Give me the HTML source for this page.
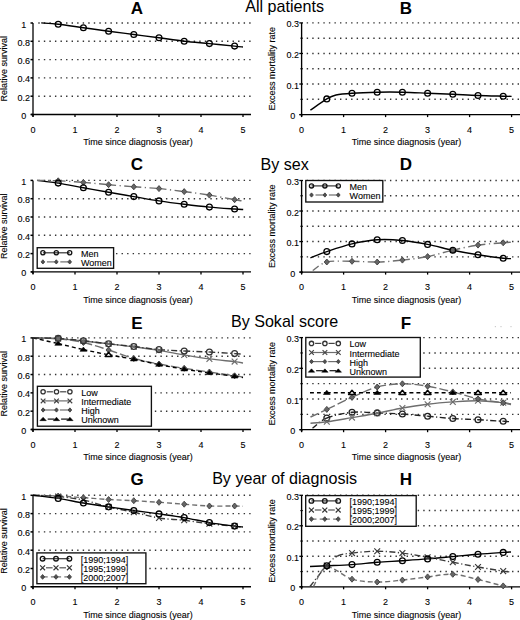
<!DOCTYPE html>
<html><head><meta charset="utf-8"><title>Relative survival figure</title>
<style>html,body{margin:0;padding:0;background:#fff;width:520px;height:620px;overflow:hidden}body{font-family:"Liberation Sans", sans-serif}text{stroke:#000;stroke-width:0.1px}text.t{stroke:none}</style></head>
<body>
<svg width="520" height="620" viewBox="0 0 520 620" style="display:block" font-family="&quot;Liberation Sans&quot;, sans-serif" fill="#000">
<rect width="520" height="620" fill="#fff"/>
<text x="137" y="13.7" font-size="17" text-anchor="middle" font-weight="bold" class="t">A</text>
<text x="406" y="13.7" font-size="17" text-anchor="middle" font-weight="bold" class="t">B</text>
<text class="t" x="284.6" y="11.9" font-size="16.1" text-anchor="middle">All patients</text>
<line x1="38.3" y1="96.2" x2="251" y2="96.2" stroke="#333" stroke-width="1.4" stroke-dasharray="1.4 4.15"/>
<line x1="38.3" y1="77.9" x2="251" y2="77.9" stroke="#333" stroke-width="1.4" stroke-dasharray="1.4 4.15"/>
<line x1="38.3" y1="59.6" x2="251" y2="59.6" stroke="#333" stroke-width="1.4" stroke-dasharray="1.4 4.15"/>
<line x1="38.3" y1="41.3" x2="251" y2="41.3" stroke="#333" stroke-width="1.4" stroke-dasharray="1.4 4.15"/>
<line x1="38.3" y1="23" x2="251" y2="23" stroke="#333" stroke-width="1.4" stroke-dasharray="1.4 4.15"/>
<line x1="33" y1="23" x2="33" y2="116.7" stroke="#5a5a5a" stroke-width="2"/>
<line x1="31" y1="114.5" x2="251" y2="114.5" stroke="#000" stroke-width="1.4"/>
<line x1="30.5" y1="114.5" x2="33" y2="114.5" stroke="#000" stroke-width="1.5"/>
<text x="23.8" y="119" font-size="9" text-anchor="middle" font-weight="normal" >0</text>
<line x1="30.5" y1="96.2" x2="33" y2="96.2" stroke="#000" stroke-width="1.5"/>
<text x="23.8" y="100.7" font-size="9" text-anchor="middle" font-weight="normal" >0.2</text>
<line x1="30.5" y1="77.9" x2="33" y2="77.9" stroke="#000" stroke-width="1.5"/>
<text x="23.8" y="82.4" font-size="9" text-anchor="middle" font-weight="normal" >0.4</text>
<line x1="30.5" y1="59.6" x2="33" y2="59.6" stroke="#000" stroke-width="1.5"/>
<text x="23.8" y="64.1" font-size="9" text-anchor="middle" font-weight="normal" >0.6</text>
<line x1="30.5" y1="41.3" x2="33" y2="41.3" stroke="#000" stroke-width="1.5"/>
<text x="23.8" y="45.8" font-size="9" text-anchor="middle" font-weight="normal" >0.8</text>
<line x1="30.5" y1="23" x2="33" y2="23" stroke="#000" stroke-width="1.5"/>
<text x="23.8" y="27.5" font-size="9" text-anchor="middle" font-weight="normal" >1</text>
<line x1="33" y1="114.5" x2="33" y2="117" stroke="#000" stroke-width="1.3"/>
<text x="33" y="132.7" font-size="9" text-anchor="middle" font-weight="normal" >0</text>
<line x1="75" y1="114.5" x2="75" y2="117" stroke="#000" stroke-width="1.3"/>
<text x="75" y="132.7" font-size="9" text-anchor="middle" font-weight="normal" >1</text>
<line x1="117" y1="114.5" x2="117" y2="117" stroke="#000" stroke-width="1.3"/>
<text x="117" y="132.7" font-size="9" text-anchor="middle" font-weight="normal" >2</text>
<line x1="159" y1="114.5" x2="159" y2="117" stroke="#000" stroke-width="1.3"/>
<text x="159" y="132.7" font-size="9" text-anchor="middle" font-weight="normal" >3</text>
<line x1="201" y1="114.5" x2="201" y2="117" stroke="#000" stroke-width="1.3"/>
<text x="201" y="132.7" font-size="9" text-anchor="middle" font-weight="normal" >4</text>
<line x1="243" y1="114.5" x2="243" y2="117" stroke="#000" stroke-width="1.3"/>
<text x="243" y="132.7" font-size="9" text-anchor="middle" font-weight="normal" >5</text>
<text x="138" y="145.2" font-size="9" text-anchor="middle" font-weight="normal" >Time since diagnosis (year)</text>
<text transform="translate(6.7,68.75) rotate(-90)" font-size="9" text-anchor="middle">Relative survival</text>
<path d="M41.2,22.9 C44.03,23.12 51.17,23.4 58.2,24.2 C65.23,25 75,26.53 83.4,27.7 C91.8,28.87 100.2,30.07 108.6,31.2 C117,32.33 125.4,33.4 133.8,34.5 C142.2,35.6 150.6,36.68 159,37.8 C167.4,38.92 175.8,40.23 184.2,41.2 C192.6,42.17 201,42.78 209.4,43.6 C217.8,44.42 229,45.53 234.6,46.1 C240.2,46.67 241.6,46.85 243,47" fill="none" stroke="#000" stroke-width="1.4" stroke-linejoin="round"/>
<circle cx="58.2" cy="24.2" r="2.9" fill="none" stroke="#000" stroke-width="1.3"/>
<circle cx="83.4" cy="27.7" r="2.9" fill="none" stroke="#000" stroke-width="1.3"/>
<circle cx="108.6" cy="31.2" r="2.9" fill="none" stroke="#000" stroke-width="1.3"/>
<circle cx="133.8" cy="34.5" r="2.9" fill="none" stroke="#000" stroke-width="1.3"/>
<circle cx="159" cy="37.8" r="2.9" fill="none" stroke="#000" stroke-width="1.3"/>
<circle cx="184.2" cy="41.2" r="2.9" fill="none" stroke="#000" stroke-width="1.3"/>
<circle cx="209.4" cy="43.6" r="2.9" fill="none" stroke="#000" stroke-width="1.3"/>
<circle cx="234.6" cy="46.1" r="2.9" fill="none" stroke="#000" stroke-width="1.3"/>
<line x1="306.7" y1="99.32" x2="520" y2="99.32" stroke="#333" stroke-width="1.4" stroke-dasharray="1.4 4.15"/>
<line x1="306.7" y1="84.03" x2="520" y2="84.03" stroke="#333" stroke-width="1.4" stroke-dasharray="1.4 4.15"/>
<line x1="306.7" y1="68.75" x2="520" y2="68.75" stroke="#333" stroke-width="1.4" stroke-dasharray="1.4 4.15"/>
<line x1="306.7" y1="53.47" x2="520" y2="53.47" stroke="#333" stroke-width="1.4" stroke-dasharray="1.4 4.15"/>
<line x1="306.7" y1="38.18" x2="520" y2="38.18" stroke="#333" stroke-width="1.4" stroke-dasharray="1.4 4.15"/>
<line x1="306.7" y1="22.9" x2="520" y2="22.9" stroke="#333" stroke-width="1.4" stroke-dasharray="1.4 4.15"/>
<line x1="301.6" y1="22.9" x2="301.6" y2="116.6" stroke="#000" stroke-width="1.35"/>
<line x1="299.6" y1="114.6" x2="520" y2="114.6" stroke="#000" stroke-width="1.3"/>
<line x1="300.4" y1="99.32" x2="302.8" y2="99.32" stroke="#000" stroke-width="1.2"/>
<line x1="300.4" y1="68.75" x2="302.8" y2="68.75" stroke="#000" stroke-width="1.2"/>
<line x1="300.4" y1="38.18" x2="302.8" y2="38.18" stroke="#000" stroke-width="1.2"/>
<line x1="299.3" y1="114.6" x2="303" y2="114.6" stroke="#000" stroke-width="1.3"/>
<text x="292.8" y="119.1" font-size="9" text-anchor="middle" font-weight="normal" >0</text>
<line x1="299.3" y1="84.03" x2="303" y2="84.03" stroke="#000" stroke-width="1.3"/>
<text x="292.8" y="88.53" font-size="9" text-anchor="middle" font-weight="normal" >0.1</text>
<line x1="299.3" y1="53.47" x2="303" y2="53.47" stroke="#000" stroke-width="1.3"/>
<text x="292.8" y="57.97" font-size="9" text-anchor="middle" font-weight="normal" >0.2</text>
<line x1="299.3" y1="22.9" x2="303" y2="22.9" stroke="#000" stroke-width="1.3"/>
<text x="292.8" y="27.4" font-size="9" text-anchor="middle" font-weight="normal" >0.3</text>
<line x1="301.6" y1="114.6" x2="301.6" y2="117.1" stroke="#000" stroke-width="1.3"/>
<text x="301.6" y="132.8" font-size="9" text-anchor="middle" font-weight="normal" >0</text>
<line x1="343.6" y1="114.6" x2="343.6" y2="117.1" stroke="#000" stroke-width="1.3"/>
<text x="343.6" y="132.8" font-size="9" text-anchor="middle" font-weight="normal" >1</text>
<line x1="385.6" y1="114.6" x2="385.6" y2="117.1" stroke="#000" stroke-width="1.3"/>
<text x="385.6" y="132.8" font-size="9" text-anchor="middle" font-weight="normal" >2</text>
<line x1="427.6" y1="114.6" x2="427.6" y2="117.1" stroke="#000" stroke-width="1.3"/>
<text x="427.6" y="132.8" font-size="9" text-anchor="middle" font-weight="normal" >3</text>
<line x1="469.6" y1="114.6" x2="469.6" y2="117.1" stroke="#000" stroke-width="1.3"/>
<text x="469.6" y="132.8" font-size="9" text-anchor="middle" font-weight="normal" >4</text>
<line x1="511.6" y1="114.6" x2="511.6" y2="117.1" stroke="#000" stroke-width="1.3"/>
<text x="511.6" y="132.8" font-size="9" text-anchor="middle" font-weight="normal" >5</text>
<text x="406.5" y="145.3" font-size="9" text-anchor="middle" font-weight="normal" >Time since diagnosis (year)</text>
<text transform="translate(275.4,68.75) rotate(-90)" font-size="9" text-anchor="middle">Excess mortality rate</text>
<path d="M310.4,110.2 C313.13,108.32 322.53,101.43 326.8,98.9 C331.07,96.37 331.8,95.95 336,95 C340.2,94.05 345.13,93.67 352,93.2 C358.87,92.73 368.8,92.37 377.2,92.2 C385.6,92.03 394,92.03 402.4,92.2 C410.8,92.37 419.2,92.85 427.6,93.2 C436,93.55 444.4,93.92 452.8,94.3 C461.2,94.68 469.6,95.18 478,95.5 C486.4,95.82 497.6,96.05 503.2,96.2 C508.8,96.35 510.2,96.37 511.6,96.4" fill="none" stroke="#000" stroke-width="1.4" stroke-linejoin="round"/>
<circle cx="326.8" cy="98.9" r="2.9" fill="none" stroke="#000" stroke-width="1.3"/>
<circle cx="352" cy="93.2" r="2.9" fill="none" stroke="#000" stroke-width="1.3"/>
<circle cx="377.2" cy="92.2" r="2.9" fill="none" stroke="#000" stroke-width="1.3"/>
<circle cx="402.4" cy="92.2" r="2.9" fill="none" stroke="#000" stroke-width="1.3"/>
<circle cx="427.6" cy="93.2" r="2.9" fill="none" stroke="#000" stroke-width="1.3"/>
<circle cx="452.8" cy="94.3" r="2.9" fill="none" stroke="#000" stroke-width="1.3"/>
<circle cx="478" cy="95.5" r="2.9" fill="none" stroke="#000" stroke-width="1.3"/>
<circle cx="503.2" cy="96.2" r="2.9" fill="none" stroke="#000" stroke-width="1.3"/>
<text x="137" y="170.4" font-size="17" text-anchor="middle" font-weight="bold" class="t">C</text>
<text x="406" y="170.4" font-size="17" text-anchor="middle" font-weight="bold" class="t">D</text>
<text class="t" x="284.6" y="169.8" font-size="16.1" text-anchor="middle">By sex</text>
<line x1="38.3" y1="253.6" x2="251" y2="253.6" stroke="#333" stroke-width="1.4" stroke-dasharray="1.4 4.15"/>
<line x1="38.3" y1="235.3" x2="251" y2="235.3" stroke="#333" stroke-width="1.4" stroke-dasharray="1.4 4.15"/>
<line x1="38.3" y1="217" x2="251" y2="217" stroke="#333" stroke-width="1.4" stroke-dasharray="1.4 4.15"/>
<line x1="38.3" y1="198.7" x2="251" y2="198.7" stroke="#333" stroke-width="1.4" stroke-dasharray="1.4 4.15"/>
<line x1="38.3" y1="180.4" x2="251" y2="180.4" stroke="#333" stroke-width="1.4" stroke-dasharray="1.4 4.15"/>
<line x1="33" y1="180.4" x2="33" y2="274.1" stroke="#5a5a5a" stroke-width="2"/>
<line x1="31" y1="271.9" x2="251" y2="271.9" stroke="#000" stroke-width="1.4"/>
<line x1="30.5" y1="271.9" x2="33" y2="271.9" stroke="#000" stroke-width="1.5"/>
<text x="23.8" y="276.4" font-size="9" text-anchor="middle" font-weight="normal" >0</text>
<line x1="30.5" y1="253.6" x2="33" y2="253.6" stroke="#000" stroke-width="1.5"/>
<text x="23.8" y="258.1" font-size="9" text-anchor="middle" font-weight="normal" >0.2</text>
<line x1="30.5" y1="235.3" x2="33" y2="235.3" stroke="#000" stroke-width="1.5"/>
<text x="23.8" y="239.8" font-size="9" text-anchor="middle" font-weight="normal" >0.4</text>
<line x1="30.5" y1="217" x2="33" y2="217" stroke="#000" stroke-width="1.5"/>
<text x="23.8" y="221.5" font-size="9" text-anchor="middle" font-weight="normal" >0.6</text>
<line x1="30.5" y1="198.7" x2="33" y2="198.7" stroke="#000" stroke-width="1.5"/>
<text x="23.8" y="203.2" font-size="9" text-anchor="middle" font-weight="normal" >0.8</text>
<line x1="30.5" y1="180.4" x2="33" y2="180.4" stroke="#000" stroke-width="1.5"/>
<text x="23.8" y="184.9" font-size="9" text-anchor="middle" font-weight="normal" >1</text>
<line x1="33" y1="271.9" x2="33" y2="274.4" stroke="#000" stroke-width="1.3"/>
<text x="33" y="290.1" font-size="9" text-anchor="middle" font-weight="normal" >0</text>
<line x1="75" y1="271.9" x2="75" y2="274.4" stroke="#000" stroke-width="1.3"/>
<text x="75" y="290.1" font-size="9" text-anchor="middle" font-weight="normal" >1</text>
<line x1="117" y1="271.9" x2="117" y2="274.4" stroke="#000" stroke-width="1.3"/>
<text x="117" y="290.1" font-size="9" text-anchor="middle" font-weight="normal" >2</text>
<line x1="159" y1="271.9" x2="159" y2="274.4" stroke="#000" stroke-width="1.3"/>
<text x="159" y="290.1" font-size="9" text-anchor="middle" font-weight="normal" >3</text>
<line x1="201" y1="271.9" x2="201" y2="274.4" stroke="#000" stroke-width="1.3"/>
<text x="201" y="290.1" font-size="9" text-anchor="middle" font-weight="normal" >4</text>
<line x1="243" y1="271.9" x2="243" y2="274.4" stroke="#000" stroke-width="1.3"/>
<text x="243" y="290.1" font-size="9" text-anchor="middle" font-weight="normal" >5</text>
<text x="138" y="302.6" font-size="9" text-anchor="middle" font-weight="normal" >Time since diagnosis (year)</text>
<text transform="translate(6.7,226.15) rotate(-90)" font-size="9" text-anchor="middle">Relative survival</text>
<path d="M37,180.4 C40.53,180.85 50.47,181.88 58.2,183.1 C65.93,184.32 75,186.17 83.4,187.7 C91.8,189.23 100.2,190.82 108.6,192.3 C117,193.78 125.4,195.17 133.8,196.6 C142.2,198.03 150.6,199.62 159,200.9 C167.4,202.18 175.8,203.27 184.2,204.3 C192.6,205.33 201,206.32 209.4,207.1 C217.8,207.88 228.97,208.6 234.6,209 C240.23,209.4 241.77,209.42 243.2,209.5" fill="none" stroke="#000" stroke-width="1.4" stroke-linejoin="round"/>
<g fill="none" stroke="#6e6e6e" stroke-width="1.4" stroke-dasharray="7.5 3.5 1.2 3.5">
<path d="M37,180.4 C40.53,180.47 50.47,180.47 58.2,180.8"/>
<path d="M58.2,180.8 C65.93,181.13 75,181.75 83.4,182.4"/>
<path d="M83.4,182.4 C91.8,183.05 100.2,183.97 108.6,184.7"/>
<path d="M108.6,184.7 C117,185.43 125.4,186.15 133.8,186.8"/>
<path d="M133.8,186.8 C142.2,187.45 150.6,187.8 159,188.6"/>
<path d="M159,188.6 C167.4,189.4 175.8,190.52 184.2,191.6"/>
<path d="M184.2,191.6 C192.6,192.68 201,193.75 209.4,195.1"/>
<path d="M209.4,195.1 C217.8,196.45 229.25,198.75 234.6,199.7"/>
<path d="M234.6,199.7 C239.95,200.65 240.35,200.62 241.5,200.8"/>
</g>
<path d="M58.2,177.8L60.8,180.8L58.2,183.8L55.6,180.8Z" fill="#666" stroke="#3e3e3e" stroke-width="0.9" stroke-linejoin="round"/>
<path d="M83.4,179.4L86,182.4L83.4,185.4L80.8,182.4Z" fill="#666" stroke="#3e3e3e" stroke-width="0.9" stroke-linejoin="round"/>
<path d="M108.6,181.7L111.2,184.7L108.6,187.7L106,184.7Z" fill="#666" stroke="#3e3e3e" stroke-width="0.9" stroke-linejoin="round"/>
<path d="M133.8,183.8L136.4,186.8L133.8,189.8L131.2,186.8Z" fill="#666" stroke="#3e3e3e" stroke-width="0.9" stroke-linejoin="round"/>
<path d="M159,185.6L161.6,188.6L159,191.6L156.4,188.6Z" fill="#666" stroke="#3e3e3e" stroke-width="0.9" stroke-linejoin="round"/>
<path d="M184.2,188.6L186.8,191.6L184.2,194.6L181.6,191.6Z" fill="#666" stroke="#3e3e3e" stroke-width="0.9" stroke-linejoin="round"/>
<path d="M209.4,192.1L212,195.1L209.4,198.1L206.8,195.1Z" fill="#666" stroke="#3e3e3e" stroke-width="0.9" stroke-linejoin="round"/>
<path d="M234.6,196.7L237.2,199.7L234.6,202.7L232,199.7Z" fill="#666" stroke="#3e3e3e" stroke-width="0.9" stroke-linejoin="round"/>
<circle cx="58.2" cy="183.1" r="2.9" fill="none" stroke="#000" stroke-width="1.3"/>
<circle cx="83.4" cy="187.7" r="2.9" fill="none" stroke="#000" stroke-width="1.3"/>
<circle cx="108.6" cy="192.3" r="2.9" fill="none" stroke="#000" stroke-width="1.3"/>
<circle cx="133.8" cy="196.6" r="2.9" fill="none" stroke="#000" stroke-width="1.3"/>
<circle cx="159" cy="200.9" r="2.9" fill="none" stroke="#000" stroke-width="1.3"/>
<circle cx="184.2" cy="204.3" r="2.9" fill="none" stroke="#000" stroke-width="1.3"/>
<circle cx="209.4" cy="207.1" r="2.9" fill="none" stroke="#000" stroke-width="1.3"/>
<circle cx="234.6" cy="209" r="2.9" fill="none" stroke="#000" stroke-width="1.3"/>
<rect x="37.2" y="247.7" width="76.4" height="20.6" fill="#fff" stroke="#111" stroke-width="1.35"/>
<line x1="42.9" y1="252.8" x2="69.7" y2="252.8" stroke="#333" stroke-width="1.2"/>
<circle cx="42.9" cy="252.8" r="2.09" fill="none" stroke="#111" stroke-width="1.3"/>
<circle cx="56.3" cy="252.8" r="2.09" fill="none" stroke="#111" stroke-width="1.3"/>
<circle cx="69.7" cy="252.8" r="2.09" fill="none" stroke="#111" stroke-width="1.3"/>
<text x="81" y="256.8" font-size="9" text-anchor="start" font-weight="normal" >Men</text>
<line x1="46.9" y1="261.9" x2="54.8" y2="261.9" stroke="#6e6e6e" stroke-width="1.2"/>
<line x1="60.3" y1="261.9" x2="68.2" y2="261.9" stroke="#6e6e6e" stroke-width="1.2"/>
<path d="M42.9,259.76L44.74,261.9L42.9,264.04L41.06,261.9Z" fill="#505050" stroke="#383838" stroke-width="0.8" stroke-linejoin="round"/>
<path d="M56.3,259.76L58.14,261.9L56.3,264.04L54.46,261.9Z" fill="#505050" stroke="#383838" stroke-width="0.8" stroke-linejoin="round"/>
<path d="M69.7,259.76L71.54,261.9L69.7,264.04L67.86,261.9Z" fill="#505050" stroke="#383838" stroke-width="0.8" stroke-linejoin="round"/>
<text x="81" y="265.9" font-size="9" text-anchor="start" font-weight="normal" >Women</text>
<line x1="306.7" y1="256.83" x2="520" y2="256.83" stroke="#333" stroke-width="1.4" stroke-dasharray="1.4 4.15"/>
<line x1="306.7" y1="241.57" x2="520" y2="241.57" stroke="#333" stroke-width="1.4" stroke-dasharray="1.4 4.15"/>
<line x1="306.7" y1="226.3" x2="520" y2="226.3" stroke="#333" stroke-width="1.4" stroke-dasharray="1.4 4.15"/>
<line x1="306.7" y1="211.03" x2="520" y2="211.03" stroke="#333" stroke-width="1.4" stroke-dasharray="1.4 4.15"/>
<line x1="306.7" y1="195.77" x2="520" y2="195.77" stroke="#333" stroke-width="1.4" stroke-dasharray="1.4 4.15"/>
<line x1="306.7" y1="180.5" x2="520" y2="180.5" stroke="#333" stroke-width="1.4" stroke-dasharray="1.4 4.15"/>
<line x1="301.6" y1="180.5" x2="301.6" y2="274.1" stroke="#000" stroke-width="1.35"/>
<line x1="299.6" y1="272.1" x2="520" y2="272.1" stroke="#000" stroke-width="1.3"/>
<line x1="300.4" y1="256.83" x2="302.8" y2="256.83" stroke="#000" stroke-width="1.2"/>
<line x1="300.4" y1="226.3" x2="302.8" y2="226.3" stroke="#000" stroke-width="1.2"/>
<line x1="300.4" y1="195.77" x2="302.8" y2="195.77" stroke="#000" stroke-width="1.2"/>
<line x1="299.3" y1="272.1" x2="303" y2="272.1" stroke="#000" stroke-width="1.3"/>
<text x="292.8" y="276.6" font-size="9" text-anchor="middle" font-weight="normal" >0</text>
<line x1="299.3" y1="241.57" x2="303" y2="241.57" stroke="#000" stroke-width="1.3"/>
<text x="292.8" y="246.07" font-size="9" text-anchor="middle" font-weight="normal" >0.1</text>
<line x1="299.3" y1="211.03" x2="303" y2="211.03" stroke="#000" stroke-width="1.3"/>
<text x="292.8" y="215.53" font-size="9" text-anchor="middle" font-weight="normal" >0.2</text>
<line x1="299.3" y1="180.5" x2="303" y2="180.5" stroke="#000" stroke-width="1.3"/>
<text x="292.8" y="185" font-size="9" text-anchor="middle" font-weight="normal" >0.3</text>
<line x1="301.6" y1="272.1" x2="301.6" y2="274.6" stroke="#000" stroke-width="1.3"/>
<text x="301.6" y="290.3" font-size="9" text-anchor="middle" font-weight="normal" >0</text>
<line x1="343.6" y1="272.1" x2="343.6" y2="274.6" stroke="#000" stroke-width="1.3"/>
<text x="343.6" y="290.3" font-size="9" text-anchor="middle" font-weight="normal" >1</text>
<line x1="385.6" y1="272.1" x2="385.6" y2="274.6" stroke="#000" stroke-width="1.3"/>
<text x="385.6" y="290.3" font-size="9" text-anchor="middle" font-weight="normal" >2</text>
<line x1="427.6" y1="272.1" x2="427.6" y2="274.6" stroke="#000" stroke-width="1.3"/>
<text x="427.6" y="290.3" font-size="9" text-anchor="middle" font-weight="normal" >3</text>
<line x1="469.6" y1="272.1" x2="469.6" y2="274.6" stroke="#000" stroke-width="1.3"/>
<text x="469.6" y="290.3" font-size="9" text-anchor="middle" font-weight="normal" >4</text>
<line x1="511.6" y1="272.1" x2="511.6" y2="274.6" stroke="#000" stroke-width="1.3"/>
<text x="511.6" y="290.3" font-size="9" text-anchor="middle" font-weight="normal" >5</text>
<text x="406.5" y="302.8" font-size="9" text-anchor="middle" font-weight="normal" >Time since diagnosis (year)</text>
<text transform="translate(275.4,226.3) rotate(-90)" font-size="9" text-anchor="middle">Excess mortality rate</text>
<path d="M310.4,257.8 C313.13,256.77 319.87,253.92 326.8,251.6 C333.73,249.28 343.6,245.87 352,243.9 C360.4,241.93 368.8,240.37 377.2,239.8 C385.6,239.23 394,239.73 402.4,240.5 C410.8,241.27 419.2,242.78 427.6,244.4 C436,246.02 444.4,248.47 452.8,250.2 C461.2,251.93 469.6,253.45 478,254.8 C486.4,256.15 497.7,257.67 503.2,258.3 C508.7,258.93 509.7,258.55 511,258.6" fill="none" stroke="#000" stroke-width="1.4" stroke-linejoin="round"/>
<g fill="none" stroke="#6e6e6e" stroke-width="1.4" stroke-dasharray="7.5 3.5 1.2 3.5">
<path d="M312.7,270.5 C315.05,269.08 320.25,263.53 326.8,262"/>
<path d="M326.8,262 C333.35,260.47 343.6,261.3 352,261.3"/>
<path d="M352,261.3 C360.4,261.3 368.8,262.2 377.2,262"/>
<path d="M377.2,262 C385.6,261.8 394,261 402.4,260.1"/>
<path d="M402.4,260.1 C410.8,259.2 419.2,258.25 427.6,256.6"/>
<path d="M427.6,256.6 C436,254.95 444.4,252.12 452.8,250.2"/>
<path d="M452.8,250.2 C461.2,248.28 469.6,246.33 478,245.1"/>
<path d="M478,245.1 C486.4,243.87 497.7,243.28 503.2,242.8"/>
<path d="M503.2,242.8 C508.7,242.32 509.7,242.3 511,242.2"/>
</g>
<path d="M326.8,259L329.4,262L326.8,265L324.2,262Z" fill="#666" stroke="#3e3e3e" stroke-width="0.9" stroke-linejoin="round"/>
<path d="M352,258.3L354.6,261.3L352,264.3L349.4,261.3Z" fill="#666" stroke="#3e3e3e" stroke-width="0.9" stroke-linejoin="round"/>
<path d="M377.2,259L379.8,262L377.2,265L374.6,262Z" fill="#666" stroke="#3e3e3e" stroke-width="0.9" stroke-linejoin="round"/>
<path d="M402.4,257.1L405,260.1L402.4,263.1L399.8,260.1Z" fill="#666" stroke="#3e3e3e" stroke-width="0.9" stroke-linejoin="round"/>
<path d="M427.6,253.6L430.2,256.6L427.6,259.6L425,256.6Z" fill="#666" stroke="#3e3e3e" stroke-width="0.9" stroke-linejoin="round"/>
<path d="M452.8,247.2L455.4,250.2L452.8,253.2L450.2,250.2Z" fill="#666" stroke="#3e3e3e" stroke-width="0.9" stroke-linejoin="round"/>
<path d="M478,242.1L480.6,245.1L478,248.1L475.4,245.1Z" fill="#666" stroke="#3e3e3e" stroke-width="0.9" stroke-linejoin="round"/>
<path d="M503.2,239.8L505.8,242.8L503.2,245.8L500.6,242.8Z" fill="#666" stroke="#3e3e3e" stroke-width="0.9" stroke-linejoin="round"/>
<circle cx="326.8" cy="251.6" r="2.9" fill="none" stroke="#000" stroke-width="1.3"/>
<circle cx="352" cy="243.9" r="2.9" fill="none" stroke="#000" stroke-width="1.3"/>
<circle cx="377.2" cy="239.8" r="2.9" fill="none" stroke="#000" stroke-width="1.3"/>
<circle cx="402.4" cy="240.5" r="2.9" fill="none" stroke="#000" stroke-width="1.3"/>
<circle cx="427.6" cy="244.4" r="2.9" fill="none" stroke="#000" stroke-width="1.3"/>
<circle cx="452.8" cy="250.2" r="2.9" fill="none" stroke="#000" stroke-width="1.3"/>
<circle cx="478" cy="254.8" r="2.9" fill="none" stroke="#000" stroke-width="1.3"/>
<circle cx="503.2" cy="258.3" r="2.9" fill="none" stroke="#000" stroke-width="1.3"/>
<rect x="305.8" y="180.5" width="77" height="21.5" fill="#fff" stroke="#111" stroke-width="1.35"/>
<line x1="311.5" y1="185.9" x2="338.3" y2="185.9" stroke="#333" stroke-width="1.2"/>
<circle cx="311.5" cy="185.9" r="2.09" fill="none" stroke="#111" stroke-width="1.3"/>
<circle cx="324.9" cy="185.9" r="2.09" fill="none" stroke="#111" stroke-width="1.3"/>
<circle cx="338.3" cy="185.9" r="2.09" fill="none" stroke="#111" stroke-width="1.3"/>
<text x="349.6" y="189.9" font-size="9" text-anchor="start" font-weight="normal" >Men</text>
<line x1="315.5" y1="195" x2="323.4" y2="195" stroke="#6e6e6e" stroke-width="1.2"/>
<line x1="328.9" y1="195" x2="336.8" y2="195" stroke="#6e6e6e" stroke-width="1.2"/>
<path d="M311.5,192.86L313.34,195L311.5,197.14L309.66,195Z" fill="#505050" stroke="#383838" stroke-width="0.8" stroke-linejoin="round"/>
<path d="M324.9,192.86L326.74,195L324.9,197.14L323.06,195Z" fill="#505050" stroke="#383838" stroke-width="0.8" stroke-linejoin="round"/>
<path d="M338.3,192.86L340.14,195L338.3,197.14L336.46,195Z" fill="#505050" stroke="#383838" stroke-width="0.8" stroke-linejoin="round"/>
<text x="349.6" y="199" font-size="9" text-anchor="start" font-weight="normal" >Women</text>
<text x="137" y="328.5" font-size="17" text-anchor="middle" font-weight="bold" class="t">E</text>
<text x="406" y="328.5" font-size="17" text-anchor="middle" font-weight="bold" class="t">F</text>
<text class="t" x="284.6" y="327.4" font-size="16.1" text-anchor="middle">By Sokal score</text>
<line x1="38.3" y1="411.18" x2="251" y2="411.18" stroke="#333" stroke-width="1.4" stroke-dasharray="1.4 4.15"/>
<line x1="38.3" y1="392.86" x2="251" y2="392.86" stroke="#333" stroke-width="1.4" stroke-dasharray="1.4 4.15"/>
<line x1="38.3" y1="374.54" x2="251" y2="374.54" stroke="#333" stroke-width="1.4" stroke-dasharray="1.4 4.15"/>
<line x1="38.3" y1="356.22" x2="251" y2="356.22" stroke="#333" stroke-width="1.4" stroke-dasharray="1.4 4.15"/>
<line x1="38.3" y1="337.9" x2="251" y2="337.9" stroke="#333" stroke-width="1.4" stroke-dasharray="1.4 4.15"/>
<line x1="33" y1="337.9" x2="33" y2="431.7" stroke="#5a5a5a" stroke-width="2"/>
<line x1="31" y1="429.5" x2="251" y2="429.5" stroke="#000" stroke-width="1.4"/>
<line x1="30.5" y1="429.5" x2="33" y2="429.5" stroke="#000" stroke-width="1.5"/>
<text x="23.8" y="434" font-size="9" text-anchor="middle" font-weight="normal" >0</text>
<line x1="30.5" y1="411.18" x2="33" y2="411.18" stroke="#000" stroke-width="1.5"/>
<text x="23.8" y="415.68" font-size="9" text-anchor="middle" font-weight="normal" >0.2</text>
<line x1="30.5" y1="392.86" x2="33" y2="392.86" stroke="#000" stroke-width="1.5"/>
<text x="23.8" y="397.36" font-size="9" text-anchor="middle" font-weight="normal" >0.4</text>
<line x1="30.5" y1="374.54" x2="33" y2="374.54" stroke="#000" stroke-width="1.5"/>
<text x="23.8" y="379.04" font-size="9" text-anchor="middle" font-weight="normal" >0.6</text>
<line x1="30.5" y1="356.22" x2="33" y2="356.22" stroke="#000" stroke-width="1.5"/>
<text x="23.8" y="360.72" font-size="9" text-anchor="middle" font-weight="normal" >0.8</text>
<line x1="30.5" y1="337.9" x2="33" y2="337.9" stroke="#000" stroke-width="1.5"/>
<text x="23.8" y="342.4" font-size="9" text-anchor="middle" font-weight="normal" >1</text>
<line x1="33" y1="429.5" x2="33" y2="432" stroke="#000" stroke-width="1.3"/>
<text x="33" y="447.7" font-size="9" text-anchor="middle" font-weight="normal" >0</text>
<line x1="75" y1="429.5" x2="75" y2="432" stroke="#000" stroke-width="1.3"/>
<text x="75" y="447.7" font-size="9" text-anchor="middle" font-weight="normal" >1</text>
<line x1="117" y1="429.5" x2="117" y2="432" stroke="#000" stroke-width="1.3"/>
<text x="117" y="447.7" font-size="9" text-anchor="middle" font-weight="normal" >2</text>
<line x1="159" y1="429.5" x2="159" y2="432" stroke="#000" stroke-width="1.3"/>
<text x="159" y="447.7" font-size="9" text-anchor="middle" font-weight="normal" >3</text>
<line x1="201" y1="429.5" x2="201" y2="432" stroke="#000" stroke-width="1.3"/>
<text x="201" y="447.7" font-size="9" text-anchor="middle" font-weight="normal" >4</text>
<line x1="243" y1="429.5" x2="243" y2="432" stroke="#000" stroke-width="1.3"/>
<text x="243" y="447.7" font-size="9" text-anchor="middle" font-weight="normal" >5</text>
<text x="138" y="460.2" font-size="9" text-anchor="middle" font-weight="normal" >Time since diagnosis (year)</text>
<text transform="translate(6.7,383.7) rotate(-90)" font-size="9" text-anchor="middle">Relative survival</text>
<g fill="none" stroke="#6e6e6e" stroke-width="1.4" stroke-dasharray="9 3">
<path d="M33,337.9 C37.2,338.05 49.8,338.03 58.2,338.8"/>
<path d="M58.2,338.8 C66.6,339.57 75,340.63 83.4,342.5"/>
<path d="M83.4,342.5 C91.8,344.37 100.2,347.33 108.6,350"/>
<path d="M108.6,350 C117,352.67 125.4,356.17 133.8,358.5"/>
<path d="M133.8,358.5 C142.2,360.83 150.6,362.37 159,364"/>
<path d="M159,364 C167.4,365.63 175.8,366.97 184.2,368.3"/>
<path d="M184.2,368.3 C192.6,369.63 201,370.75 209.4,372"/>
<path d="M209.4,372 C217.8,373.25 229,374.97 234.6,375.8"/>
<path d="M234.6,375.8 C240.2,376.63 241.6,376.8 243,377"/>
</g>
<path d="M33,337.9 C37.2,338.02 49.8,338.08 58.2,338.6 C66.6,339.12 75,340.13 83.4,341 C91.8,341.87 100.2,342.83 108.6,343.8 C117,344.77 125.4,345.7 133.8,346.8 C142.2,347.9 150.6,349.05 159,350.4 C167.4,351.75 175.8,353.48 184.2,354.9 C192.6,356.32 201,357.78 209.4,358.9 C217.8,360.02 229,360.92 234.6,361.6 C240.2,362.28 241.6,362.77 243,363" fill="none" stroke="#6e6e6e" stroke-width="1.4" stroke-linejoin="round"/>
<g fill="none" stroke="#000" stroke-width="1.4" stroke-dasharray="4 3">
<path d="M33,337.9 C37.2,338.85 49.8,341.65 58.2,343.6"/>
<path d="M58.2,343.6 C66.6,345.55 75,347.73 83.4,349.6"/>
<path d="M83.4,349.6 C91.8,351.47 100.2,353.2 108.6,354.8"/>
<path d="M108.6,354.8 C117,356.4 125.4,357.57 133.8,359.2"/>
<path d="M133.8,359.2 C142.2,360.83 150.6,362.93 159,364.6"/>
<path d="M159,364.6 C167.4,366.27 175.8,367.82 184.2,369.2"/>
<path d="M184.2,369.2 C192.6,370.58 201,371.72 209.4,372.9"/>
<path d="M209.4,372.9 C217.8,374.08 229,375.52 234.6,376.3"/>
<path d="M234.6,376.3 C240.2,377.08 241.6,377.38 243,377.6"/>
</g>
<g fill="none" stroke="#333" stroke-width="1.4" stroke-dasharray="6 2.5 1.2 2.5">
<path d="M33,337.9 C37.2,337.98 49.8,337.92 58.2,338.4"/>
<path d="M58.2,338.4 C66.6,338.88 75,339.9 83.4,340.8"/>
<path d="M83.4,340.8 C91.8,341.7 100.2,342.85 108.6,343.8"/>
<path d="M108.6,343.8 C117,344.75 125.4,345.53 133.8,346.5"/>
<path d="M133.8,346.5 C142.2,347.47 150.6,348.85 159,349.6"/>
<path d="M159,349.6 C167.4,350.35 175.8,350.6 184.2,351"/>
<path d="M184.2,351 C192.6,351.4 201,351.57 209.4,352"/>
<path d="M209.4,352 C217.8,352.43 229,353.23 234.6,353.6"/>
<path d="M234.6,353.6 C240.2,353.97 241.6,354.1 243,354.2"/>
</g>
<path d="M58.2,335.8L60.8,338.8L58.2,341.8L55.6,338.8Z" fill="#666" stroke="#3e3e3e" stroke-width="0.9" stroke-linejoin="round"/>
<path d="M83.4,339.5L86,342.5L83.4,345.5L80.8,342.5Z" fill="#666" stroke="#3e3e3e" stroke-width="0.9" stroke-linejoin="round"/>
<path d="M108.6,347L111.2,350L108.6,353L106,350Z" fill="#666" stroke="#3e3e3e" stroke-width="0.9" stroke-linejoin="round"/>
<path d="M133.8,355.5L136.4,358.5L133.8,361.5L131.2,358.5Z" fill="#666" stroke="#3e3e3e" stroke-width="0.9" stroke-linejoin="round"/>
<path d="M159,361L161.6,364L159,367L156.4,364Z" fill="#666" stroke="#3e3e3e" stroke-width="0.9" stroke-linejoin="round"/>
<path d="M184.2,365.3L186.8,368.3L184.2,371.3L181.6,368.3Z" fill="#666" stroke="#3e3e3e" stroke-width="0.9" stroke-linejoin="round"/>
<path d="M209.4,369L212,372L209.4,375L206.8,372Z" fill="#666" stroke="#3e3e3e" stroke-width="0.9" stroke-linejoin="round"/>
<path d="M234.6,372.8L237.2,375.8L234.6,378.8L232,375.8Z" fill="#666" stroke="#3e3e3e" stroke-width="0.9" stroke-linejoin="round"/>
<path d="M55.3,335.7L61.1,341.5M55.3,341.5L61.1,335.7" stroke="#6e6e6e" stroke-width="1.15" fill="none"/>
<path d="M80.5,338.1L86.3,343.9M80.5,343.9L86.3,338.1" stroke="#6e6e6e" stroke-width="1.15" fill="none"/>
<path d="M105.7,340.9L111.5,346.7M105.7,346.7L111.5,340.9" stroke="#6e6e6e" stroke-width="1.15" fill="none"/>
<path d="M130.9,343.9L136.7,349.7M130.9,349.7L136.7,343.9" stroke="#6e6e6e" stroke-width="1.15" fill="none"/>
<path d="M156.1,347.5L161.9,353.3M156.1,353.3L161.9,347.5" stroke="#6e6e6e" stroke-width="1.15" fill="none"/>
<path d="M181.3,352L187.1,357.8M181.3,357.8L187.1,352" stroke="#6e6e6e" stroke-width="1.15" fill="none"/>
<path d="M206.5,356L212.3,361.8M206.5,361.8L212.3,356" stroke="#6e6e6e" stroke-width="1.15" fill="none"/>
<path d="M231.7,358.7L237.5,364.5M231.7,364.5L237.5,358.7" stroke="#6e6e6e" stroke-width="1.15" fill="none"/>
<path d="M58.2,341.08L61.6,345.28L54.8,345.28Z" fill="#000" stroke="#000" stroke-width="0.6"/>
<path d="M83.4,347.08L86.8,351.28L80,351.28Z" fill="#000" stroke="#000" stroke-width="0.6"/>
<path d="M108.6,352.28L112,356.48L105.2,356.48Z" fill="#fff" stroke="#000" stroke-width="1.5" stroke-linejoin="round"/>
<path d="M133.8,356.68L137.2,360.88L130.4,360.88Z" fill="#000" stroke="#000" stroke-width="0.6"/>
<path d="M159,362.08L162.4,366.28L155.6,366.28Z" fill="#000" stroke="#000" stroke-width="0.6"/>
<path d="M184.2,366.68L187.6,370.88L180.8,370.88Z" fill="#000" stroke="#000" stroke-width="0.6"/>
<path d="M209.4,370.38L212.8,374.58L206,374.58Z" fill="#000" stroke="#000" stroke-width="0.6"/>
<path d="M234.6,373.78L238,377.98L231.2,377.98Z" fill="#000" stroke="#000" stroke-width="0.6"/>
<circle cx="58.2" cy="338.4" r="2.9" fill="none" stroke="#333" stroke-width="1.3"/>
<circle cx="83.4" cy="340.8" r="2.9" fill="none" stroke="#333" stroke-width="1.3"/>
<circle cx="108.6" cy="343.8" r="2.9" fill="none" stroke="#333" stroke-width="1.3"/>
<circle cx="133.8" cy="346.5" r="2.9" fill="none" stroke="#333" stroke-width="1.3"/>
<circle cx="159" cy="349.6" r="2.9" fill="none" stroke="#333" stroke-width="1.3"/>
<circle cx="184.2" cy="351" r="2.9" fill="none" stroke="#333" stroke-width="1.3"/>
<circle cx="209.4" cy="352" r="2.9" fill="none" stroke="#333" stroke-width="1.3"/>
<circle cx="234.6" cy="353.6" r="2.9" fill="none" stroke="#333" stroke-width="1.3"/>
<rect x="37.4" y="386.3" width="114" height="39.9" fill="#fff" stroke="#111" stroke-width="1.35"/>
<line x1="46.7" y1="391.8" x2="52.9" y2="391.8" stroke="#444" stroke-width="1.2"/>
<line x1="60.1" y1="391.8" x2="66.3" y2="391.8" stroke="#444" stroke-width="1.2"/>
<circle cx="43.1" cy="391.8" r="2.17" fill="none" stroke="#333" stroke-width="1.3"/>
<circle cx="56.5" cy="391.8" r="2.17" fill="none" stroke="#333" stroke-width="1.3"/>
<circle cx="69.9" cy="391.8" r="2.17" fill="none" stroke="#333" stroke-width="1.3"/>
<text x="81.2" y="395.8" font-size="9" text-anchor="start" font-weight="normal" >Low</text>
<line x1="43.1" y1="400.9" x2="69.9" y2="400.9" stroke="#6e6e6e" stroke-width="1.2"/>
<path d="M40.78,398.58L45.42,403.22M40.78,403.22L45.42,398.58" stroke="#444" stroke-width="1.15" fill="none"/>
<path d="M54.18,398.58L58.82,403.22M54.18,403.22L58.82,398.58" stroke="#444" stroke-width="1.15" fill="none"/>
<path d="M67.58,398.58L72.22,403.22M67.58,403.22L72.22,398.58" stroke="#444" stroke-width="1.15" fill="none"/>
<text x="81.2" y="404.9" font-size="9" text-anchor="start" font-weight="normal" >Intermediate</text>
<line x1="43.6" y1="410" x2="56" y2="410" stroke="#6e6e6e" stroke-width="1.2"/>
<line x1="59.8" y1="410" x2="69.4" y2="410" stroke="#6e6e6e" stroke-width="1.2"/>
<path d="M43.1,407.86L44.94,410L43.1,412.14L41.26,410Z" fill="#505050" stroke="#383838" stroke-width="0.8" stroke-linejoin="round"/>
<path d="M56.5,407.86L58.34,410L56.5,412.14L54.66,410Z" fill="#505050" stroke="#383838" stroke-width="0.8" stroke-linejoin="round"/>
<path d="M69.9,407.86L71.74,410L69.9,412.14L68.06,410Z" fill="#505050" stroke="#383838" stroke-width="0.8" stroke-linejoin="round"/>
<text x="81.2" y="414" font-size="9" text-anchor="start" font-weight="normal" >High</text>
<line x1="47.7" y1="419.1" x2="54.5" y2="419.1" stroke="#111" stroke-width="1.2"/>
<line x1="61.1" y1="419.1" x2="67.9" y2="419.1" stroke="#111" stroke-width="1.2"/>
<path d="M43.1,417.23L46.3,420.63L39.9,420.63Z" fill="#000" stroke="#000" stroke-width="0.5"/>
<path d="M56.5,417.23L59.7,420.63L53.3,420.63Z" fill="#000" stroke="#000" stroke-width="0.5"/>
<path d="M69.9,417.23L73.1,420.63L66.7,420.63Z" fill="#000" stroke="#000" stroke-width="0.5"/>
<text x="81.2" y="423.1" font-size="9" text-anchor="start" font-weight="normal" >Unknown</text>
<line x1="306.7" y1="414.35" x2="520" y2="414.35" stroke="#333" stroke-width="1.4" stroke-dasharray="1.4 4.15"/>
<line x1="306.7" y1="399" x2="520" y2="399" stroke="#333" stroke-width="1.4" stroke-dasharray="1.4 4.15"/>
<line x1="306.7" y1="383.65" x2="520" y2="383.65" stroke="#333" stroke-width="1.4" stroke-dasharray="1.4 4.15"/>
<line x1="306.7" y1="368.3" x2="520" y2="368.3" stroke="#333" stroke-width="1.4" stroke-dasharray="1.4 4.15"/>
<line x1="306.7" y1="352.95" x2="520" y2="352.95" stroke="#333" stroke-width="1.4" stroke-dasharray="1.4 4.15"/>
<line x1="306.7" y1="337.6" x2="520" y2="337.6" stroke="#333" stroke-width="1.4" stroke-dasharray="1.4 4.15"/>
<line x1="301.6" y1="337.6" x2="301.6" y2="431.7" stroke="#000" stroke-width="1.35"/>
<line x1="299.6" y1="429.7" x2="520" y2="429.7" stroke="#000" stroke-width="1.3"/>
<line x1="300.4" y1="414.35" x2="302.8" y2="414.35" stroke="#000" stroke-width="1.2"/>
<line x1="300.4" y1="383.65" x2="302.8" y2="383.65" stroke="#000" stroke-width="1.2"/>
<line x1="300.4" y1="352.95" x2="302.8" y2="352.95" stroke="#000" stroke-width="1.2"/>
<line x1="299.3" y1="429.7" x2="303" y2="429.7" stroke="#000" stroke-width="1.3"/>
<text x="292.8" y="434.2" font-size="9" text-anchor="middle" font-weight="normal" >0</text>
<line x1="299.3" y1="399" x2="303" y2="399" stroke="#000" stroke-width="1.3"/>
<text x="292.8" y="403.5" font-size="9" text-anchor="middle" font-weight="normal" >0.1</text>
<line x1="299.3" y1="368.3" x2="303" y2="368.3" stroke="#000" stroke-width="1.3"/>
<text x="292.8" y="372.8" font-size="9" text-anchor="middle" font-weight="normal" >0.2</text>
<line x1="299.3" y1="337.6" x2="303" y2="337.6" stroke="#000" stroke-width="1.3"/>
<text x="292.8" y="342.1" font-size="9" text-anchor="middle" font-weight="normal" >0.3</text>
<line x1="301.6" y1="429.7" x2="301.6" y2="432.2" stroke="#000" stroke-width="1.3"/>
<text x="301.6" y="447.9" font-size="9" text-anchor="middle" font-weight="normal" >0</text>
<line x1="343.6" y1="429.7" x2="343.6" y2="432.2" stroke="#000" stroke-width="1.3"/>
<text x="343.6" y="447.9" font-size="9" text-anchor="middle" font-weight="normal" >1</text>
<line x1="385.6" y1="429.7" x2="385.6" y2="432.2" stroke="#000" stroke-width="1.3"/>
<text x="385.6" y="447.9" font-size="9" text-anchor="middle" font-weight="normal" >2</text>
<line x1="427.6" y1="429.7" x2="427.6" y2="432.2" stroke="#000" stroke-width="1.3"/>
<text x="427.6" y="447.9" font-size="9" text-anchor="middle" font-weight="normal" >3</text>
<line x1="469.6" y1="429.7" x2="469.6" y2="432.2" stroke="#000" stroke-width="1.3"/>
<text x="469.6" y="447.9" font-size="9" text-anchor="middle" font-weight="normal" >4</text>
<line x1="511.6" y1="429.7" x2="511.6" y2="432.2" stroke="#000" stroke-width="1.3"/>
<text x="511.6" y="447.9" font-size="9" text-anchor="middle" font-weight="normal" >5</text>
<text x="406.5" y="460.4" font-size="9" text-anchor="middle" font-weight="normal" >Time since diagnosis (year)</text>
<text transform="translate(275.4,383.65) rotate(-90)" font-size="9" text-anchor="middle">Excess mortality rate</text>
<g fill="none" stroke="#222" stroke-width="1.4" stroke-dasharray="6 2.5 1.2 2.5">
<path d="M312.5,428.3 C314.88,426.58 320.22,420.67 326.8,418"/>
<path d="M326.8,418 C333.38,415.33 343.6,413.15 352,412.3"/>
<path d="M352,412.3 C360.4,411.45 368.8,412.62 377.2,412.9"/>
<path d="M377.2,412.9 C385.6,413.18 394,413.45 402.4,414"/>
<path d="M402.4,414 C410.8,414.55 419.2,415.45 427.6,416.2"/>
<path d="M427.6,416.2 C436,416.95 444.4,417.92 452.8,418.5"/>
<path d="M452.8,418.5 C461.2,419.08 469.6,419.23 478,419.7"/>
<path d="M478,419.7 C486.4,420.17 498.03,420.98 503.2,421.3"/>
<path d="M503.2,421.3 C508.37,421.62 508.03,421.55 509,421.6"/>
</g>
<path d="M310.5,423.2 C313.22,422.97 319.88,422.73 326.8,421.8 C333.72,420.87 343.6,419.02 352,417.6 C360.4,416.18 368.8,414.9 377.2,413.3 C385.6,411.7 394,409.52 402.4,408 C410.8,406.48 419.2,405.22 427.6,404.2 C436,403.18 444.4,402.48 452.8,401.9 C461.2,401.32 469.6,400.55 478,400.7 C486.4,400.85 497.7,402.25 503.2,402.8 C508.7,403.35 509.7,403.8 511,404" fill="none" stroke="#6e6e6e" stroke-width="1.4" stroke-linejoin="round"/>
<g fill="none" stroke="#6e6e6e" stroke-width="1.4" stroke-dasharray="9 3">
<path d="M310.5,417 C313.22,415.73 319.88,412.67 326.8,409.4"/>
<path d="M326.8,409.4 C333.72,406.13 343.6,401.13 352,397.4"/>
<path d="M352,397.4 C360.4,393.67 368.8,389.27 377.2,387"/>
<path d="M377.2,387 C385.6,384.73 394,383.93 402.4,383.8"/>
<path d="M402.4,383.8 C410.8,383.67 419.2,384.85 427.6,386.2"/>
<path d="M427.6,386.2 C436,387.55 444.4,389.78 452.8,391.9"/>
<path d="M452.8,391.9 C461.2,394.02 469.6,397.08 478,398.9"/>
<path d="M478,398.9 C486.4,400.72 497.7,401.87 503.2,402.8"/>
<path d="M503.2,402.8 C508.7,403.73 509.7,404.22 511,404.5"/>
</g>
<g fill="none" stroke="#000" stroke-width="1.4" stroke-dasharray="4 3">
<path d="M310,392.8 C312.8,392.8 319.8,392.8 326.8,392.8"/>
<path d="M326.8,392.8 C333.8,392.8 343.6,392.8 352,392.8"/>
<path d="M352,392.8 C360.4,392.8 368.8,392.8 377.2,392.8"/>
<path d="M377.2,392.8 C385.6,392.8 394,392.8 402.4,392.8"/>
<path d="M402.4,392.8 C410.8,392.8 419.2,392.8 427.6,392.8"/>
<path d="M427.6,392.8 C436,392.8 444.4,392.8 452.8,392.8"/>
<path d="M452.8,392.8 C461.2,392.8 469.6,392.8 478,392.8"/>
<path d="M478,392.8 C486.4,392.8 497.7,392.8 503.2,392.8"/>
<path d="M503.2,392.8 C508.7,392.8 509.7,392.8 511,392.8"/>
</g>
<circle cx="326.8" cy="418" r="2.9" fill="none" stroke="#222" stroke-width="1.3"/>
<circle cx="352" cy="412.3" r="2.9" fill="none" stroke="#222" stroke-width="1.3"/>
<circle cx="377.2" cy="412.9" r="2.9" fill="none" stroke="#222" stroke-width="1.3"/>
<circle cx="402.4" cy="414" r="2.9" fill="none" stroke="#222" stroke-width="1.3"/>
<circle cx="427.6" cy="416.2" r="2.9" fill="none" stroke="#222" stroke-width="1.3"/>
<circle cx="452.8" cy="418.5" r="2.9" fill="none" stroke="#222" stroke-width="1.3"/>
<circle cx="478" cy="419.7" r="2.9" fill="none" stroke="#222" stroke-width="1.3"/>
<circle cx="503.2" cy="421.3" r="2.9" fill="none" stroke="#222" stroke-width="1.3"/>
<path d="M323.9,418.9L329.7,424.7M323.9,424.7L329.7,418.9" stroke="#6e6e6e" stroke-width="1.15" fill="none"/>
<path d="M349.1,414.7L354.9,420.5M349.1,420.5L354.9,414.7" stroke="#6e6e6e" stroke-width="1.15" fill="none"/>
<path d="M374.3,410.4L380.1,416.2M374.3,416.2L380.1,410.4" stroke="#6e6e6e" stroke-width="1.15" fill="none"/>
<path d="M399.5,405.1L405.3,410.9M399.5,410.9L405.3,405.1" stroke="#6e6e6e" stroke-width="1.15" fill="none"/>
<path d="M424.7,401.3L430.5,407.1M424.7,407.1L430.5,401.3" stroke="#6e6e6e" stroke-width="1.15" fill="none"/>
<path d="M449.9,399L455.7,404.8M449.9,404.8L455.7,399" stroke="#6e6e6e" stroke-width="1.15" fill="none"/>
<path d="M475.1,397.8L480.9,403.6M475.1,403.6L480.9,397.8" stroke="#6e6e6e" stroke-width="1.15" fill="none"/>
<path d="M500.3,399.9L506.1,405.7M500.3,405.7L506.1,399.9" stroke="#6e6e6e" stroke-width="1.15" fill="none"/>
<path d="M326.8,406.4L329.4,409.4L326.8,412.4L324.2,409.4Z" fill="#666" stroke="#3e3e3e" stroke-width="0.9" stroke-linejoin="round"/>
<path d="M352,394.4L354.6,397.4L352,400.4L349.4,397.4Z" fill="#666" stroke="#3e3e3e" stroke-width="0.9" stroke-linejoin="round"/>
<path d="M377.2,384L379.8,387L377.2,390L374.6,387Z" fill="#666" stroke="#3e3e3e" stroke-width="0.9" stroke-linejoin="round"/>
<path d="M402.4,380.8L405,383.8L402.4,386.8L399.8,383.8Z" fill="#666" stroke="#3e3e3e" stroke-width="0.9" stroke-linejoin="round"/>
<path d="M427.6,383.2L430.2,386.2L427.6,389.2L425,386.2Z" fill="#666" stroke="#3e3e3e" stroke-width="0.9" stroke-linejoin="round"/>
<path d="M452.8,388.9L455.4,391.9L452.8,394.9L450.2,391.9Z" fill="#666" stroke="#3e3e3e" stroke-width="0.9" stroke-linejoin="round"/>
<path d="M478,395.9L480.6,398.9L478,401.9L475.4,398.9Z" fill="#666" stroke="#3e3e3e" stroke-width="0.9" stroke-linejoin="round"/>
<path d="M503.2,399.8L505.8,402.8L503.2,405.8L500.6,402.8Z" fill="#666" stroke="#3e3e3e" stroke-width="0.9" stroke-linejoin="round"/>
<path d="M326.8,390.28L330.2,394.48L323.4,394.48Z" fill="#000" stroke="#000" stroke-width="0.6"/>
<path d="M352,390.28L355.4,394.48L348.6,394.48Z" fill="#fff" stroke="#000" stroke-width="1.5" stroke-linejoin="round"/>
<path d="M377.2,390.28L380.6,394.48L373.8,394.48Z" fill="#000" stroke="#000" stroke-width="0.6"/>
<path d="M402.4,390.28L405.8,394.48L399,394.48Z" fill="#fff" stroke="#000" stroke-width="1.5" stroke-linejoin="round"/>
<path d="M427.6,390.28L431,394.48L424.2,394.48Z" fill="#fff" stroke="#000" stroke-width="1.5" stroke-linejoin="round"/>
<path d="M452.8,390.28L456.2,394.48L449.4,394.48Z" fill="#000" stroke="#000" stroke-width="0.6"/>
<path d="M478,390.28L481.4,394.48L474.6,394.48Z" fill="#fff" stroke="#000" stroke-width="1.5" stroke-linejoin="round"/>
<path d="M503.2,390.28L506.6,394.48L499.8,394.48Z" fill="#fff" stroke="#000" stroke-width="1.5" stroke-linejoin="round"/>
<rect x="305.8" y="337.5" width="114.5" height="39.6" fill="#fff" stroke="#111" stroke-width="1.35"/>
<line x1="315.1" y1="343.4" x2="321.3" y2="343.4" stroke="#444" stroke-width="1.2"/>
<line x1="328.5" y1="343.4" x2="334.7" y2="343.4" stroke="#444" stroke-width="1.2"/>
<circle cx="311.5" cy="343.4" r="2.17" fill="none" stroke="#333" stroke-width="1.3"/>
<circle cx="324.9" cy="343.4" r="2.17" fill="none" stroke="#333" stroke-width="1.3"/>
<circle cx="338.3" cy="343.4" r="2.17" fill="none" stroke="#333" stroke-width="1.3"/>
<text x="349.6" y="347.4" font-size="9" text-anchor="start" font-weight="normal" >Low</text>
<line x1="311.5" y1="352.5" x2="338.3" y2="352.5" stroke="#6e6e6e" stroke-width="1.2"/>
<path d="M309.18,350.18L313.82,354.82M309.18,354.82L313.82,350.18" stroke="#444" stroke-width="1.15" fill="none"/>
<path d="M322.58,350.18L327.22,354.82M322.58,354.82L327.22,350.18" stroke="#444" stroke-width="1.15" fill="none"/>
<path d="M335.98,350.18L340.62,354.82M335.98,354.82L340.62,350.18" stroke="#444" stroke-width="1.15" fill="none"/>
<text x="349.6" y="356.5" font-size="9" text-anchor="start" font-weight="normal" >Intermediate</text>
<line x1="312" y1="361.6" x2="324.4" y2="361.6" stroke="#6e6e6e" stroke-width="1.2"/>
<line x1="328.2" y1="361.6" x2="337.8" y2="361.6" stroke="#6e6e6e" stroke-width="1.2"/>
<path d="M311.5,359.46L313.34,361.6L311.5,363.74L309.66,361.6Z" fill="#505050" stroke="#383838" stroke-width="0.8" stroke-linejoin="round"/>
<path d="M324.9,359.46L326.74,361.6L324.9,363.74L323.06,361.6Z" fill="#505050" stroke="#383838" stroke-width="0.8" stroke-linejoin="round"/>
<path d="M338.3,359.46L340.14,361.6L338.3,363.74L336.46,361.6Z" fill="#505050" stroke="#383838" stroke-width="0.8" stroke-linejoin="round"/>
<text x="349.6" y="365.6" font-size="9" text-anchor="start" font-weight="normal" >High</text>
<line x1="316.1" y1="370.7" x2="322.9" y2="370.7" stroke="#111" stroke-width="1.2"/>
<line x1="329.5" y1="370.7" x2="336.3" y2="370.7" stroke="#111" stroke-width="1.2"/>
<path d="M311.5,368.83L314.7,372.23L308.3,372.23Z" fill="#000" stroke="#000" stroke-width="0.5"/>
<path d="M324.9,368.83L328.1,372.23L321.7,372.23Z" fill="#000" stroke="#000" stroke-width="0.5"/>
<path d="M338.3,368.83L341.5,372.23L335.1,372.23Z" fill="#000" stroke="#000" stroke-width="0.5"/>
<text x="349.6" y="374.7" font-size="9" text-anchor="start" font-weight="normal" >Unknown</text>
<rect x="494.8" y="326" width="1.2" height="1.2" fill="#ccc"/>
<rect x="500.4" y="326" width="1.2" height="1.2" fill="#ccc"/>
<rect x="510.4" y="326" width="1.2" height="1.2" fill="#ccc"/>
<text x="137" y="485.3" font-size="17" text-anchor="middle" font-weight="bold" class="t">G</text>
<text x="406" y="485.3" font-size="17" text-anchor="middle" font-weight="bold" class="t">H</text>
<text class="t" x="284.6" y="484.3" font-size="16.1" text-anchor="middle">By year of diagnosis</text>
<line x1="38.3" y1="568.5" x2="251" y2="568.5" stroke="#333" stroke-width="1.4" stroke-dasharray="1.4 4.15"/>
<line x1="38.3" y1="550.2" x2="251" y2="550.2" stroke="#333" stroke-width="1.4" stroke-dasharray="1.4 4.15"/>
<line x1="38.3" y1="531.9" x2="251" y2="531.9" stroke="#333" stroke-width="1.4" stroke-dasharray="1.4 4.15"/>
<line x1="38.3" y1="513.6" x2="251" y2="513.6" stroke="#333" stroke-width="1.4" stroke-dasharray="1.4 4.15"/>
<line x1="38.3" y1="495.3" x2="251" y2="495.3" stroke="#333" stroke-width="1.4" stroke-dasharray="1.4 4.15"/>
<line x1="33" y1="495.3" x2="33" y2="589" stroke="#5a5a5a" stroke-width="2"/>
<line x1="31" y1="586.8" x2="251" y2="586.8" stroke="#000" stroke-width="1.4"/>
<line x1="30.5" y1="586.8" x2="33" y2="586.8" stroke="#000" stroke-width="1.5"/>
<text x="23.8" y="591.3" font-size="9" text-anchor="middle" font-weight="normal" >0</text>
<line x1="30.5" y1="568.5" x2="33" y2="568.5" stroke="#000" stroke-width="1.5"/>
<text x="23.8" y="573" font-size="9" text-anchor="middle" font-weight="normal" >0.2</text>
<line x1="30.5" y1="550.2" x2="33" y2="550.2" stroke="#000" stroke-width="1.5"/>
<text x="23.8" y="554.7" font-size="9" text-anchor="middle" font-weight="normal" >0.4</text>
<line x1="30.5" y1="531.9" x2="33" y2="531.9" stroke="#000" stroke-width="1.5"/>
<text x="23.8" y="536.4" font-size="9" text-anchor="middle" font-weight="normal" >0.6</text>
<line x1="30.5" y1="513.6" x2="33" y2="513.6" stroke="#000" stroke-width="1.5"/>
<text x="23.8" y="518.1" font-size="9" text-anchor="middle" font-weight="normal" >0.8</text>
<line x1="30.5" y1="495.3" x2="33" y2="495.3" stroke="#000" stroke-width="1.5"/>
<text x="23.8" y="499.8" font-size="9" text-anchor="middle" font-weight="normal" >1</text>
<line x1="33" y1="586.8" x2="33" y2="589.3" stroke="#000" stroke-width="1.3"/>
<text x="33" y="605" font-size="9" text-anchor="middle" font-weight="normal" >0</text>
<line x1="75" y1="586.8" x2="75" y2="589.3" stroke="#000" stroke-width="1.3"/>
<text x="75" y="605" font-size="9" text-anchor="middle" font-weight="normal" >1</text>
<line x1="117" y1="586.8" x2="117" y2="589.3" stroke="#000" stroke-width="1.3"/>
<text x="117" y="605" font-size="9" text-anchor="middle" font-weight="normal" >2</text>
<line x1="159" y1="586.8" x2="159" y2="589.3" stroke="#000" stroke-width="1.3"/>
<text x="159" y="605" font-size="9" text-anchor="middle" font-weight="normal" >3</text>
<line x1="201" y1="586.8" x2="201" y2="589.3" stroke="#000" stroke-width="1.3"/>
<text x="201" y="605" font-size="9" text-anchor="middle" font-weight="normal" >4</text>
<line x1="243" y1="586.8" x2="243" y2="589.3" stroke="#000" stroke-width="1.3"/>
<text x="243" y="605" font-size="9" text-anchor="middle" font-weight="normal" >5</text>
<text x="138" y="617.5" font-size="9" text-anchor="middle" font-weight="normal" >Time since diagnosis (year)</text>
<text transform="translate(6.7,541.05) rotate(-90)" font-size="9" text-anchor="middle">Relative survival</text>
<g fill="none" stroke="#6e6e6e" stroke-width="1.4" stroke-dasharray="5 3">
<path d="M33,495.3 C37.2,495.42 49.8,495.6 58.2,496"/>
<path d="M58.2,496 C66.6,496.4 75,497.12 83.4,497.7"/>
<path d="M83.4,497.7 C91.8,498.28 100.2,499 108.6,499.5"/>
<path d="M108.6,499.5 C117,500 125.4,500.23 133.8,500.7"/>
<path d="M133.8,500.7 C142.2,501.17 150.6,501.72 159,502.3"/>
<path d="M159,502.3 C167.4,502.88 175.8,503.58 184.2,504.2"/>
<path d="M184.2,504.2 C192.6,504.82 201,505.7 209.4,506"/>
<path d="M209.4,506 C217.8,506.3 229,505.95 234.6,506"/>
<path d="M234.6,506 C240.2,506.05 241.6,506.25 243,506.3"/>
</g>
<g fill="none" stroke="#3a3a3a" stroke-width="1.4" stroke-dasharray="6 2.5 1.2 2.5">
<path d="M33,495.3 C37.2,495.5 49.8,495.72 58.2,496.5"/>
<path d="M58.2,496.5 C66.6,497.28 75,498.25 83.4,500"/>
<path d="M83.4,500 C91.8,501.75 100.2,504.97 108.6,507"/>
<path d="M108.6,507 C117,509.03 125.4,510.37 133.8,512.2"/>
<path d="M133.8,512.2 C142.2,514.03 150.6,516.65 159,518"/>
<path d="M159,518 C167.4,519.35 175.8,519.33 184.2,520.3"/>
<path d="M184.2,520.3 C192.6,521.27 201,522.83 209.4,523.8"/>
<path d="M209.4,523.8 C217.8,524.77 229,525.48 234.6,526.1"/>
<path d="M234.6,526.1 C240.2,526.72 241.6,527.27 243,527.5"/>
</g>
<path d="M33,495.3 C37.2,495.82 49.8,497.12 58.2,498.4 C66.6,499.68 75,501.58 83.4,503 C91.8,504.42 100.2,505.65 108.6,506.9 C117,508.15 125.4,509.33 133.8,510.5 C142.2,511.67 150.6,512.72 159,513.9 C167.4,515.08 175.8,516.15 184.2,517.6 C192.6,519.05 201,521.18 209.4,522.6 C217.8,524.02 229,525.37 234.6,526.1 C240.2,526.83 241.6,526.85 243,527" fill="none" stroke="#000" stroke-width="1.4" stroke-linejoin="round"/>
<path d="M58.2,493L60.8,496L58.2,499L55.6,496Z" fill="#666" stroke="#3e3e3e" stroke-width="0.9" stroke-linejoin="round"/>
<path d="M83.4,494.7L86,497.7L83.4,500.7L80.8,497.7Z" fill="#666" stroke="#3e3e3e" stroke-width="0.9" stroke-linejoin="round"/>
<path d="M108.6,496.5L111.2,499.5L108.6,502.5L106,499.5Z" fill="#666" stroke="#3e3e3e" stroke-width="0.9" stroke-linejoin="round"/>
<path d="M133.8,497.7L136.4,500.7L133.8,503.7L131.2,500.7Z" fill="#666" stroke="#3e3e3e" stroke-width="0.9" stroke-linejoin="round"/>
<path d="M159,499.3L161.6,502.3L159,505.3L156.4,502.3Z" fill="#666" stroke="#3e3e3e" stroke-width="0.9" stroke-linejoin="round"/>
<path d="M184.2,501.2L186.8,504.2L184.2,507.2L181.6,504.2Z" fill="#666" stroke="#3e3e3e" stroke-width="0.9" stroke-linejoin="round"/>
<path d="M209.4,503L212,506L209.4,509L206.8,506Z" fill="#666" stroke="#3e3e3e" stroke-width="0.9" stroke-linejoin="round"/>
<path d="M234.6,503L237.2,506L234.6,509L232,506Z" fill="#666" stroke="#3e3e3e" stroke-width="0.9" stroke-linejoin="round"/>
<path d="M55.3,493.6L61.1,499.4M55.3,499.4L61.1,493.6" stroke="#3a3a3a" stroke-width="1.15" fill="none"/>
<path d="M80.5,497.1L86.3,502.9M80.5,502.9L86.3,497.1" stroke="#3a3a3a" stroke-width="1.15" fill="none"/>
<path d="M105.7,504.1L111.5,509.9M105.7,509.9L111.5,504.1" stroke="#3a3a3a" stroke-width="1.15" fill="none"/>
<path d="M130.9,509.3L136.7,515.1M130.9,515.1L136.7,509.3" stroke="#3a3a3a" stroke-width="1.15" fill="none"/>
<path d="M156.1,515.1L161.9,520.9M156.1,520.9L161.9,515.1" stroke="#3a3a3a" stroke-width="1.15" fill="none"/>
<path d="M181.3,517.4L187.1,523.2M181.3,523.2L187.1,517.4" stroke="#3a3a3a" stroke-width="1.15" fill="none"/>
<path d="M206.5,520.9L212.3,526.7M206.5,526.7L212.3,520.9" stroke="#3a3a3a" stroke-width="1.15" fill="none"/>
<path d="M231.7,523.2L237.5,529M231.7,529L237.5,523.2" stroke="#3a3a3a" stroke-width="1.15" fill="none"/>
<circle cx="58.2" cy="498.4" r="2.9" fill="none" stroke="#000" stroke-width="1.3"/>
<circle cx="83.4" cy="503" r="2.9" fill="none" stroke="#000" stroke-width="1.3"/>
<circle cx="108.6" cy="506.9" r="2.9" fill="none" stroke="#000" stroke-width="1.3"/>
<circle cx="133.8" cy="510.5" r="2.9" fill="none" stroke="#000" stroke-width="1.3"/>
<circle cx="159" cy="513.9" r="2.9" fill="none" stroke="#000" stroke-width="1.3"/>
<circle cx="184.2" cy="517.6" r="2.9" fill="none" stroke="#000" stroke-width="1.3"/>
<circle cx="209.4" cy="522.6" r="2.9" fill="none" stroke="#000" stroke-width="1.3"/>
<circle cx="234.6" cy="526.1" r="2.9" fill="none" stroke="#000" stroke-width="1.3"/>
<rect x="36.9" y="552.9" width="109" height="30.8" fill="#fff" stroke="#111" stroke-width="1.35"/>
<line x1="42.6" y1="558.7" x2="69.4" y2="558.7" stroke="#333" stroke-width="1.2"/>
<circle cx="42.6" cy="558.7" r="2.32" fill="none" stroke="#111" stroke-width="1.3"/>
<circle cx="56" cy="558.7" r="2.32" fill="none" stroke="#111" stroke-width="1.3"/>
<circle cx="69.4" cy="558.7" r="2.32" fill="none" stroke="#111" stroke-width="1.3"/>
<text x="80.7" y="562.7" font-size="9" text-anchor="start" font-weight="normal" >[1990;1994]</text>
<line x1="46" y1="567.8" x2="52.6" y2="567.8" stroke="#555" stroke-width="1.2"/>
<line x1="59.4" y1="567.8" x2="66" y2="567.8" stroke="#555" stroke-width="1.2"/>
<path d="M40.14,565.33L45.06,570.26M40.14,570.26L45.06,565.33" stroke="#333" stroke-width="1.15" fill="none"/>
<path d="M53.53,565.33L58.47,570.26M53.53,570.26L58.47,565.33" stroke="#333" stroke-width="1.15" fill="none"/>
<path d="M66.94,565.33L71.87,570.26M66.94,570.26L71.87,565.33" stroke="#333" stroke-width="1.15" fill="none"/>
<text x="80.7" y="571.8" font-size="9" text-anchor="start" font-weight="normal" >[1995;1999]</text>
<line x1="42.6" y1="576.9" x2="47.7" y2="576.9" stroke="#6e6e6e" stroke-width="1.2"/>
<line x1="50.9" y1="576.9" x2="56" y2="576.9" stroke="#6e6e6e" stroke-width="1.2"/>
<line x1="56" y1="576.9" x2="61.1" y2="576.9" stroke="#6e6e6e" stroke-width="1.2"/>
<line x1="64.3" y1="576.9" x2="69.4" y2="576.9" stroke="#6e6e6e" stroke-width="1.2"/>
<path d="M42.6,574.48L44.68,576.9L42.6,579.32L40.52,576.9Z" fill="#505050" stroke="#383838" stroke-width="0.8" stroke-linejoin="round"/>
<path d="M56,574.48L58.08,576.9L56,579.32L53.92,576.9Z" fill="#505050" stroke="#383838" stroke-width="0.8" stroke-linejoin="round"/>
<path d="M69.4,574.48L71.48,576.9L69.4,579.32L67.32,576.9Z" fill="#505050" stroke="#383838" stroke-width="0.8" stroke-linejoin="round"/>
<text x="80.7" y="580.9" font-size="9" text-anchor="start" font-weight="normal" >[2000;2007]</text>
<line x1="306.7" y1="571.55" x2="520" y2="571.55" stroke="#333" stroke-width="1.4" stroke-dasharray="1.4 4.15"/>
<line x1="306.7" y1="556.3" x2="520" y2="556.3" stroke="#333" stroke-width="1.4" stroke-dasharray="1.4 4.15"/>
<line x1="306.7" y1="541.05" x2="520" y2="541.05" stroke="#333" stroke-width="1.4" stroke-dasharray="1.4 4.15"/>
<line x1="306.7" y1="525.8" x2="520" y2="525.8" stroke="#333" stroke-width="1.4" stroke-dasharray="1.4 4.15"/>
<line x1="306.7" y1="510.55" x2="520" y2="510.55" stroke="#333" stroke-width="1.4" stroke-dasharray="1.4 4.15"/>
<line x1="306.7" y1="495.3" x2="520" y2="495.3" stroke="#333" stroke-width="1.4" stroke-dasharray="1.4 4.15"/>
<line x1="301.6" y1="495.3" x2="301.6" y2="588.8" stroke="#000" stroke-width="1.35"/>
<line x1="299.6" y1="586.8" x2="520" y2="586.8" stroke="#000" stroke-width="1.3"/>
<line x1="300.4" y1="571.55" x2="302.8" y2="571.55" stroke="#000" stroke-width="1.2"/>
<line x1="300.4" y1="541.05" x2="302.8" y2="541.05" stroke="#000" stroke-width="1.2"/>
<line x1="300.4" y1="510.55" x2="302.8" y2="510.55" stroke="#000" stroke-width="1.2"/>
<line x1="299.3" y1="586.8" x2="303" y2="586.8" stroke="#000" stroke-width="1.3"/>
<text x="292.8" y="591.3" font-size="9" text-anchor="middle" font-weight="normal" >0</text>
<line x1="299.3" y1="556.3" x2="303" y2="556.3" stroke="#000" stroke-width="1.3"/>
<text x="292.8" y="560.8" font-size="9" text-anchor="middle" font-weight="normal" >0.1</text>
<line x1="299.3" y1="525.8" x2="303" y2="525.8" stroke="#000" stroke-width="1.3"/>
<text x="292.8" y="530.3" font-size="9" text-anchor="middle" font-weight="normal" >0.2</text>
<line x1="299.3" y1="495.3" x2="303" y2="495.3" stroke="#000" stroke-width="1.3"/>
<text x="292.8" y="499.8" font-size="9" text-anchor="middle" font-weight="normal" >0.3</text>
<line x1="301.6" y1="586.8" x2="301.6" y2="589.3" stroke="#000" stroke-width="1.3"/>
<text x="301.6" y="605" font-size="9" text-anchor="middle" font-weight="normal" >0</text>
<line x1="343.6" y1="586.8" x2="343.6" y2="589.3" stroke="#000" stroke-width="1.3"/>
<text x="343.6" y="605" font-size="9" text-anchor="middle" font-weight="normal" >1</text>
<line x1="385.6" y1="586.8" x2="385.6" y2="589.3" stroke="#000" stroke-width="1.3"/>
<text x="385.6" y="605" font-size="9" text-anchor="middle" font-weight="normal" >2</text>
<line x1="427.6" y1="586.8" x2="427.6" y2="589.3" stroke="#000" stroke-width="1.3"/>
<text x="427.6" y="605" font-size="9" text-anchor="middle" font-weight="normal" >3</text>
<line x1="469.6" y1="586.8" x2="469.6" y2="589.3" stroke="#000" stroke-width="1.3"/>
<text x="469.6" y="605" font-size="9" text-anchor="middle" font-weight="normal" >4</text>
<line x1="511.6" y1="586.8" x2="511.6" y2="589.3" stroke="#000" stroke-width="1.3"/>
<text x="511.6" y="605" font-size="9" text-anchor="middle" font-weight="normal" >5</text>
<text x="406.5" y="617.5" font-size="9" text-anchor="middle" font-weight="normal" >Time since diagnosis (year)</text>
<text transform="translate(275.4,541.05) rotate(-90)" font-size="9" text-anchor="middle">Excess mortality rate</text>
<path d="M310,566.5 C312.8,566.38 319.8,566.12 326.8,565.8 C333.8,565.48 343.6,565.18 352,564.6 C360.4,564.02 368.8,562.95 377.2,562.3 C385.6,561.65 394,561.27 402.4,560.7 C410.8,560.13 419.2,559.58 427.6,558.9 C436,558.22 444.4,557.38 452.8,556.6 C461.2,555.82 469.6,554.9 478,554.2 C486.4,553.5 497.7,552.77 503.2,552.4 C508.7,552.03 509.7,552.07 511,552" fill="none" stroke="#000" stroke-width="1.4" stroke-linejoin="round"/>
<g fill="none" stroke="#3a3a3a" stroke-width="1.4" stroke-dasharray="6 2.5 1.2 2.5">
<path d="M310,586.5 C312.8,583 322.22,570.58 326.8,565.5"/>
<path d="M326.8,565.5 C331.38,560.42 333.3,558.07 337.5,556"/>
<path d="M337.5,556 C341.7,553.93 345.38,553.9 352,553.1"/>
<path d="M352,553.1 C358.62,552.3 368.8,551.2 377.2,551.2"/>
<path d="M377.2,551.2 C385.6,551.2 394,552.08 402.4,553.1"/>
<path d="M402.4,553.1 C410.8,554.12 419.2,555.77 427.6,557.3"/>
<path d="M427.6,557.3 C436,558.83 444.4,560.68 452.8,562.3"/>
<path d="M452.8,562.3 C461.2,563.92 469.6,565.53 478,567"/>
<path d="M478,567 C486.4,568.47 497.7,570.27 503.2,571.1"/>
<path d="M503.2,571.1 C508.7,571.93 509.7,571.85 511,572"/>
</g>
<g fill="none" stroke="#6e6e6e" stroke-width="1.4" stroke-dasharray="5 3">
<path d="M313.5,586.5 C315.72,583.25 320.38,568.22 326.8,567"/>
<path d="M326.8,567 C333.22,565.78 343.6,576.7 352,579.2"/>
<path d="M352,579.2 C360.4,581.7 368.8,581.85 377.2,582"/>
<path d="M377.2,582 C385.6,582.15 394,580.95 402.4,580.1"/>
<path d="M402.4,580.1 C410.8,579.25 419.2,577.87 427.6,576.9"/>
<path d="M427.6,576.9 C436,575.93 444.4,573.87 452.8,574.3"/>
<path d="M452.8,574.3 C461.2,574.73 469.6,577.57 478,579.5"/>
<path d="M478,579.5 C486.4,581.43 497.7,584.65 503.2,585.9"/>
<path d="M503.2,585.9 C508.7,587.15 509.7,586.82 511,587"/>
</g>
<path d="M326.8,564L329.4,567L326.8,570L324.2,567Z" fill="#666" stroke="#3e3e3e" stroke-width="0.9" stroke-linejoin="round"/>
<path d="M352,576.2L354.6,579.2L352,582.2L349.4,579.2Z" fill="#666" stroke="#3e3e3e" stroke-width="0.9" stroke-linejoin="round"/>
<path d="M377.2,579L379.8,582L377.2,585L374.6,582Z" fill="#666" stroke="#3e3e3e" stroke-width="0.9" stroke-linejoin="round"/>
<path d="M402.4,577.1L405,580.1L402.4,583.1L399.8,580.1Z" fill="#666" stroke="#3e3e3e" stroke-width="0.9" stroke-linejoin="round"/>
<path d="M427.6,573.9L430.2,576.9L427.6,579.9L425,576.9Z" fill="#666" stroke="#3e3e3e" stroke-width="0.9" stroke-linejoin="round"/>
<path d="M452.8,571.3L455.4,574.3L452.8,577.3L450.2,574.3Z" fill="#666" stroke="#3e3e3e" stroke-width="0.9" stroke-linejoin="round"/>
<path d="M478,576.5L480.6,579.5L478,582.5L475.4,579.5Z" fill="#666" stroke="#3e3e3e" stroke-width="0.9" stroke-linejoin="round"/>
<path d="M503.2,582.9L505.8,585.9L503.2,588.9L500.6,585.9Z" fill="#666" stroke="#3e3e3e" stroke-width="0.9" stroke-linejoin="round"/>
<path d="M323.9,562.6L329.7,568.4M323.9,568.4L329.7,562.6" stroke="#3a3a3a" stroke-width="1.15" fill="none"/>
<path d="M349.1,550.2L354.9,556M349.1,556L354.9,550.2" stroke="#3a3a3a" stroke-width="1.15" fill="none"/>
<path d="M374.3,548.3L380.1,554.1M374.3,554.1L380.1,548.3" stroke="#3a3a3a" stroke-width="1.15" fill="none"/>
<path d="M399.5,550.2L405.3,556M399.5,556L405.3,550.2" stroke="#3a3a3a" stroke-width="1.15" fill="none"/>
<path d="M424.7,554.4L430.5,560.2M424.7,560.2L430.5,554.4" stroke="#3a3a3a" stroke-width="1.15" fill="none"/>
<path d="M449.9,559.4L455.7,565.2M449.9,565.2L455.7,559.4" stroke="#3a3a3a" stroke-width="1.15" fill="none"/>
<path d="M475.1,564.1L480.9,569.9M475.1,569.9L480.9,564.1" stroke="#3a3a3a" stroke-width="1.15" fill="none"/>
<path d="M500.3,568.2L506.1,574M500.3,574L506.1,568.2" stroke="#3a3a3a" stroke-width="1.15" fill="none"/>
<circle cx="326.8" cy="565.8" r="2.9" fill="none" stroke="#000" stroke-width="1.3"/>
<circle cx="352" cy="564.6" r="2.9" fill="none" stroke="#000" stroke-width="1.3"/>
<circle cx="377.2" cy="562.3" r="2.9" fill="none" stroke="#000" stroke-width="1.3"/>
<circle cx="402.4" cy="560.7" r="2.9" fill="none" stroke="#000" stroke-width="1.3"/>
<circle cx="427.6" cy="558.9" r="2.9" fill="none" stroke="#000" stroke-width="1.3"/>
<circle cx="452.8" cy="556.6" r="2.9" fill="none" stroke="#000" stroke-width="1.3"/>
<circle cx="478" cy="554.2" r="2.9" fill="none" stroke="#000" stroke-width="1.3"/>
<circle cx="503.2" cy="552.4" r="2.9" fill="none" stroke="#000" stroke-width="1.3"/>
<rect x="305.7" y="495.6" width="110.5" height="30.7" fill="#fff" stroke="#111" stroke-width="1.35"/>
<line x1="311.4" y1="500.9" x2="338.2" y2="500.9" stroke="#333" stroke-width="1.2"/>
<circle cx="311.4" cy="500.9" r="2.32" fill="none" stroke="#111" stroke-width="1.3"/>
<circle cx="324.8" cy="500.9" r="2.32" fill="none" stroke="#111" stroke-width="1.3"/>
<circle cx="338.2" cy="500.9" r="2.32" fill="none" stroke="#111" stroke-width="1.3"/>
<text x="349.5" y="504.9" font-size="9" text-anchor="start" font-weight="normal" >[1990;1994]</text>
<line x1="314.8" y1="510" x2="321.4" y2="510" stroke="#555" stroke-width="1.2"/>
<line x1="328.2" y1="510" x2="334.8" y2="510" stroke="#555" stroke-width="1.2"/>
<path d="M308.94,507.54L313.86,512.47M308.94,512.47L313.86,507.54" stroke="#333" stroke-width="1.15" fill="none"/>
<path d="M322.34,507.54L327.26,512.47M322.34,512.47L327.26,507.54" stroke="#333" stroke-width="1.15" fill="none"/>
<path d="M335.74,507.54L340.66,512.47M335.74,512.47L340.66,507.54" stroke="#333" stroke-width="1.15" fill="none"/>
<text x="349.5" y="514" font-size="9" text-anchor="start" font-weight="normal" >[1995;1999]</text>
<line x1="311.4" y1="519.1" x2="316.5" y2="519.1" stroke="#6e6e6e" stroke-width="1.2"/>
<line x1="319.7" y1="519.1" x2="324.8" y2="519.1" stroke="#6e6e6e" stroke-width="1.2"/>
<line x1="324.8" y1="519.1" x2="329.9" y2="519.1" stroke="#6e6e6e" stroke-width="1.2"/>
<line x1="333.1" y1="519.1" x2="338.2" y2="519.1" stroke="#6e6e6e" stroke-width="1.2"/>
<path d="M311.4,516.68L313.48,519.1L311.4,521.52L309.32,519.1Z" fill="#505050" stroke="#383838" stroke-width="0.8" stroke-linejoin="round"/>
<path d="M324.8,516.68L326.88,519.1L324.8,521.52L322.72,519.1Z" fill="#505050" stroke="#383838" stroke-width="0.8" stroke-linejoin="round"/>
<path d="M338.2,516.68L340.28,519.1L338.2,521.52L336.12,519.1Z" fill="#505050" stroke="#383838" stroke-width="0.8" stroke-linejoin="round"/>
<text x="349.5" y="523.1" font-size="9" text-anchor="start" font-weight="normal" >[2000;2007]</text>
</svg>
</body></html>
